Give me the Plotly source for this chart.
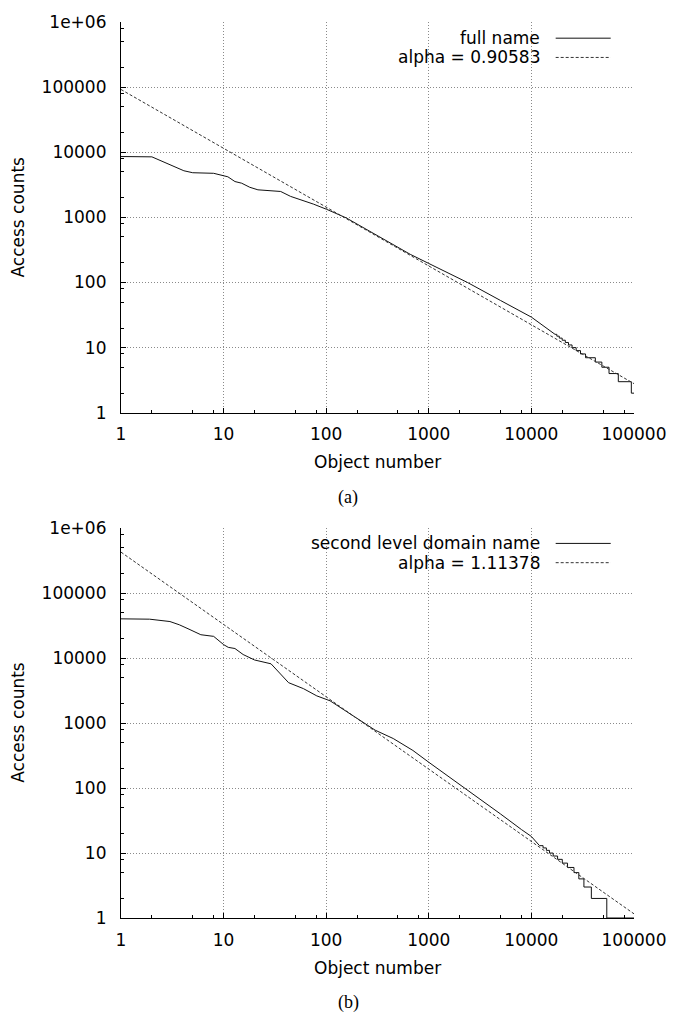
import plotly.graph_objects as go

# ---------------- data ----------------
# (a) full name : rank / access count (smooth head)
ranks_a = [1, 2, 4.1, 5, 8, 10, 11, 12.9, 15, 18, 21.6, 36, 45, 75, 101, 157,
           300, 659, 1000, 2385, 5000, 10000, 17000]
counts_a = [8600, 8500, 5200, 4850, 4750, 4400, 4200, 3550, 3350, 2900, 2650,
            2500, 2100, 1600, 1330, 980, 550, 271, 196, 100, 53, 29.4, 16]
# (a) stepped tail: first rank having each count
tail_ranks_a = [17000, 17700, 18700, 19950, 21400, 23000, 24900, 27300, 30100,
                33700, 42000, 48600, 57100, 70300, 94200, 100000]
tail_counts_a = [16, 15, 14, 13, 12, 11, 10, 9, 8, 7, 6, 5, 4, 3, 2, 2]
# (a) fitted Zipf line, alpha = 0.90583
fit_x_a = [1, 100000]
fit_y_a = [92000, 2.8]

# (b) second level domain name
ranks_b = [1, 1.9, 3, 3.7, 4.6, 6, 8, 10, 11.1, 12.9, 15.5, 20, 29, 36, 43, 60,
           81, 109, 157, 220, 300, 450, 700, 1000, 2000, 3000, 5000, 8000,
           10000, 12000]
counts_b = [40400, 39900, 36700, 32700, 28000, 23000, 21700, 16200, 14700,
            14100, 11400, 9400, 8200, 5600, 4200, 3400, 2630, 2210, 1515, 1050,
            780, 580, 380, 250, 115, 72, 40, 23, 18, 13]
tail_ranks_b = [12000, 13000, 14000, 15000, 16300, 18000, 20000, 22500, 26000,
                29000, 32500, 38400, 54300, 100000]
tail_counts_b = [13, 12, 11, 10, 9, 8, 7, 6, 5, 4, 3, 2, 1, 1]
fit_x_b = [1, 100000]
fit_y_b = [430000, 1.16]

legend_a = ["full name", "alpha = 0.90583"]
legend_b = ["second level domain name", "alpha = 1.11378"]
panel_labels = ["(a)", "(b)"]

x_tickvals = [1, 10, 100, 1000, 10000, 100000]
x_ticktext = ["1", "10", "100", "1000", "10000", "100000"]
y_tickvals = [1, 10, 100, 1000, 10000, 100000, 1000000]
y_ticktext = ["1", "10", "100", "1000", "10000", "100000", "1e+06"]
x_minor = [m * 10 ** k for k in range(5) for m in (2, 5, 8)]
y_minor = [m * 10 ** k for k in range(6) for m in (2, 5, 8)]

# ---------------- figure ----------------
W, H = 678, 1017
ML, MR, MT, MB = 120.7, 35.3, 16, 98.5
PW = W - ML - MR
PH = H - MT - MB
FONT = "DejaVu Sans"
SERIF = "Liberation Serif"
SOLID = "#111111"
DASHC = "#333333"


def px_x(xp):
    return (xp - ML) / PW


def px_y(yp):
    return (H - MB - yp) / PH


top_dom = [px_y(409.6), 1.0]
bot_dom = [0.0, px_y(526.0)]

fig = go.Figure()

panels = [
    ("x", "y", ranks_a, counts_a, tail_ranks_a, tail_counts_a, fit_x_a, fit_y_a),
    ("x2", "y2", ranks_b, counts_b, tail_ranks_b, tail_counts_b, fit_x_b, fit_y_b),
]
for xa, ya, rx, ry, tx, ty, fx, fy in panels:
    fig.add_trace(go.Scatter(x=rx, y=ry, mode="lines", xaxis=xa, yaxis=ya,
                             line=dict(color=SOLID, width=1), showlegend=False))
    fig.add_trace(go.Scatter(x=tx, y=ty, mode="lines", xaxis=xa, yaxis=ya,
                             line=dict(color=SOLID, width=1, shape="hv"),
                             showlegend=False))
    fig.add_trace(go.Scatter(x=fx, y=fy, mode="lines", xaxis=xa, yaxis=ya,
                             line=dict(color=DASHC, width=1, dash="3px,2px"),
                             showlegend=False))


def xaxis(anchor):
    return dict(
        type="log", range=[0, 5], domain=[0, 1], anchor=anchor,
        tickmode="array", tickvals=x_tickvals, ticktext=x_ticktext,
        ticks="inside", ticklen=5, tickwidth=1, tickcolor="black",
        ticklabelstandoff=6,
        showline=True, linecolor="black", linewidth=1.2, mirror=False,
        showgrid=True, gridcolor="#8a8a8a", gridwidth=1, griddash="1px,2px",
        zeroline=False,
        tickfont=dict(family=FONT, size=17, color="black"),
        minor=dict(tickmode="array", tickvals=x_minor, ticks="inside",
                   ticklen=3, tickwidth=1, tickcolor="black", showgrid=False),
    )


def yaxis(anchor, dom):
    return dict(
        type="log", range=[0, 6], domain=dom, anchor=anchor,
        tickmode="array", tickvals=y_tickvals, ticktext=y_ticktext,
        ticks="inside", ticklen=5, tickwidth=1, tickcolor="black",
        ticklabelstandoff=10,
        showline=True, linecolor="black", linewidth=1.2, mirror=False,
        showgrid=True, gridcolor="#8a8a8a", gridwidth=1, griddash="1px,2px",
        zeroline=False,
        tickfont=dict(family=FONT, size=17, color="black"),
        minor=dict(tickmode="array", tickvals=y_minor, ticks="inside",
                   ticklen=3, tickwidth=1, tickcolor="black", showgrid=False),
    )


annotations = []
shapes = []
for xa, ya, labels, axis_y, panel in [("x", "y", legend_a, 409.6, panel_labels[0]),
                                      ("x2", "y2", legend_b, 918.5, panel_labels[1])]:
    top = axis_y - 393.6
    # legend (text right aligned, sample line on the right, as gnuplot)
    for i, (lab, dash) in enumerate(zip(labels, ["solid", "3px,2px"])):
        yy = top + 16.3 + i * 19.4
        annotations.append(dict(text=lab, xref="paper", yref="paper",
                                x=px_x(549), y=px_y(yy), xanchor="right",
                                yanchor="middle", showarrow=False,
                                font=dict(family=FONT, size=17, color="black")))
        shapes.append(dict(type="line", xref="paper", yref="paper",
                           x0=px_x(563), x1=px_x(619), y0=px_y(yy), y1=px_y(yy),
                           line=dict(color=SOLID if i == 0 else DASHC, width=1,
                                     dash=dash)))
    # axis titles
    annotations.append(dict(text="Object number", xref="paper", yref="paper",
                            x=px_x(381.7), y=px_y(axis_y + 50), xanchor="center",
                            yanchor="middle", showarrow=False,
                            font=dict(family=FONT, size=17, color="black")))
    annotations.append(dict(text="Access counts", xref="paper", yref="paper",
                            x=px_x(16), y=px_y(axis_y - 196.8), xanchor="center",
                            yanchor="middle", textangle=-90, showarrow=False,
                            font=dict(family=FONT, size=17, color="black")))
    annotations.append(dict(text=panel, xref="paper", yref="paper",
                            x=px_x(352), y=px_y(axis_y + 85.5), xanchor="center",
                            yanchor="middle", showarrow=False,
                            font=dict(family=SERIF, size=18, color="black")))

fig.update_layout(
    width=W, height=H,
    margin=dict(l=ML, r=MR, t=MT, b=MB, pad=0),
    paper_bgcolor="white", plot_bgcolor="white",
    xaxis=xaxis("y"), yaxis=yaxis("x", top_dom),
    xaxis2=xaxis("y2"), yaxis2=yaxis("x2", bot_dom),
    annotations=annotations, shapes=shapes,
    showlegend=False,
)

fig.write_html("out.html")
